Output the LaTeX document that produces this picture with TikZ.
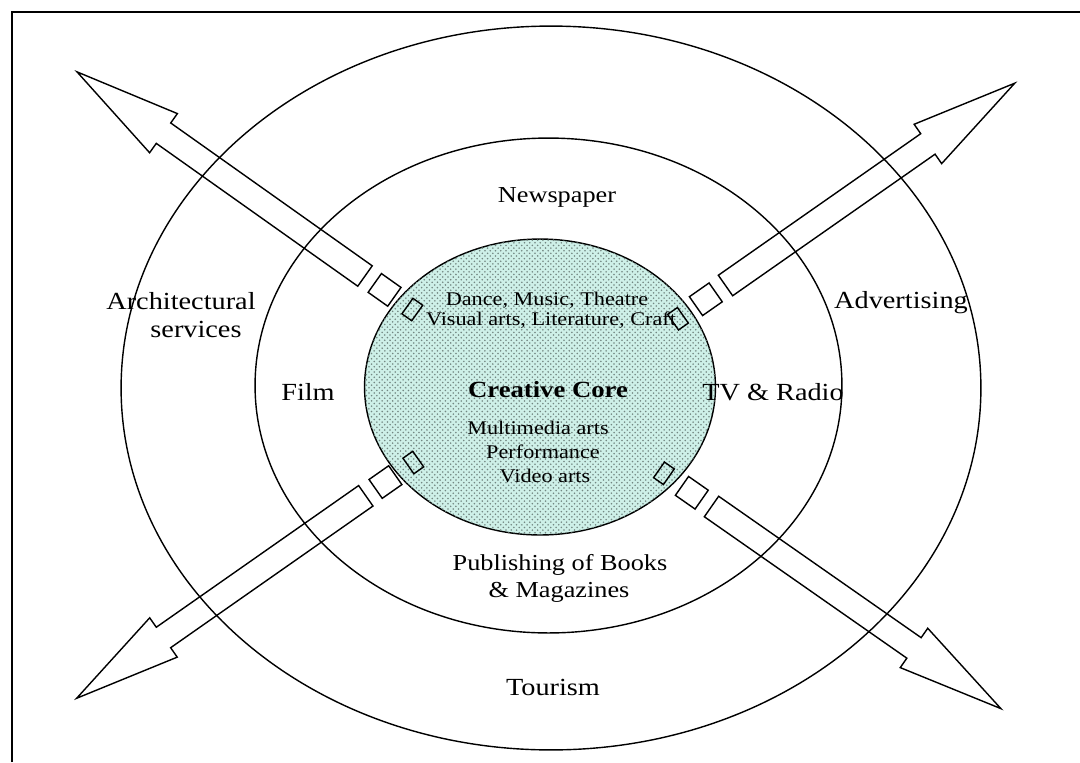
\documentclass[tikz,border=0pt]{standalone}
\usepackage{fontspec}
\setmainfont[FakeStretch=1.15]{Liberation Serif}
\usetikzlibrary{patterns}
\definecolor{corefill}{RGB}{206,240,232}
\definecolor{coredot}{RGB}{115,135,130}
\newcommand{\ccArrow}[4]{%
  \begin{scope}[shift={(#1,#2)}, rotate=#3]
    \draw[arrowline] (0,-12.5) -- (247,-12.5) -- (247,-24) -- (353,0) -- (247,24) -- (247,12.5) -- (0,12.5) -- cycle;
    \draw[arrowline] (-36,-11.5) rectangle (-12,11.5);
    \draw[arrowline] (-64,-9.5) rectangle (-52,9.5);
  \end{scope}}
\begin{document}
\begin{tikzpicture}[x=0.02cm,y=-0.02cm,
  ring/.style={draw=black, line width=0.8pt},
  arrowline/.style={draw=black, line width=0.8pt, line join=miter},
  biglab/.style={font=\fontsize{14}{16}\selectfont, inner sep=0pt, anchor=base},
  midlab/.style={font=\fontsize{13}{15}\selectfont, inner sep=0pt, anchor=base},
  corelab/.style={font=\fontsize{11}{13}\selectfont, inner sep=0pt, anchor=base},
  corehead/.style={font=\bfseries\fontsize{13.2}{15}\selectfont, inner sep=0pt, anchor=base}]
\useasboundingbox (0,0) rectangle (1080,762);
% frame
\draw[line width=1.1pt] (12,762) -- (12,12) -- (1080,12);
% rings
\draw[ring] (551,388) ellipse [x radius=8.6cm, y radius=7.24cm];
\draw[ring] (548.5,385.5) ellipse [x radius=5.87cm, y radius=4.95cm];
\draw[ring, fill=corefill, postaction={pattern=crosshatch dots, pattern color=coredot}] (540,387) ellipse [x radius=3.51cm, y radius=2.96cm];
% arrows
\ccArrow{725.5}{285.5}{34.97}{ur}
\ccArrow{365}{276}{144.67}{ul}
\ccArrow{365.8}{495.8}{215.0}{ll}
\ccArrow{711.5}{506.5}{325.07}{lr}
% labels
\node[midlab] (newspaper) at (557,202) {Newspaper};
\node[biglab] (arch1) at (181,309) {Architectural};
\node[biglab] (arch2) at (196,337) {services};
\node[biglab] (advert) at (901,308) {Advertising};
\node[biglab] (film) at (308,400) {Film};
\node[biglab] (tvradio) at (773,400) {TV \& Radio};
\node[corehead] (core) at (548,397) {Creative Core};
\node[corelab] (dance) at (547,305) {Dance, Music, Theatre};
\node[corelab] (visual) at (551,325) {Visual arts, Literature, Craft};
\node[corelab] (multi) at (538,434) {Multimedia arts};
\node[corelab] (perf) at (543,458) {Performance};
\node[corelab] (video) at (545,482) {Video arts};
\node[midlab] (pub1) at (560,570) {Publishing of Books};
\node[midlab] (pub2) at (559,597) {\& Magazines};
\node[biglab] (tourism) at (553,695) {Tourism};
\end{tikzpicture}
\end{document}
